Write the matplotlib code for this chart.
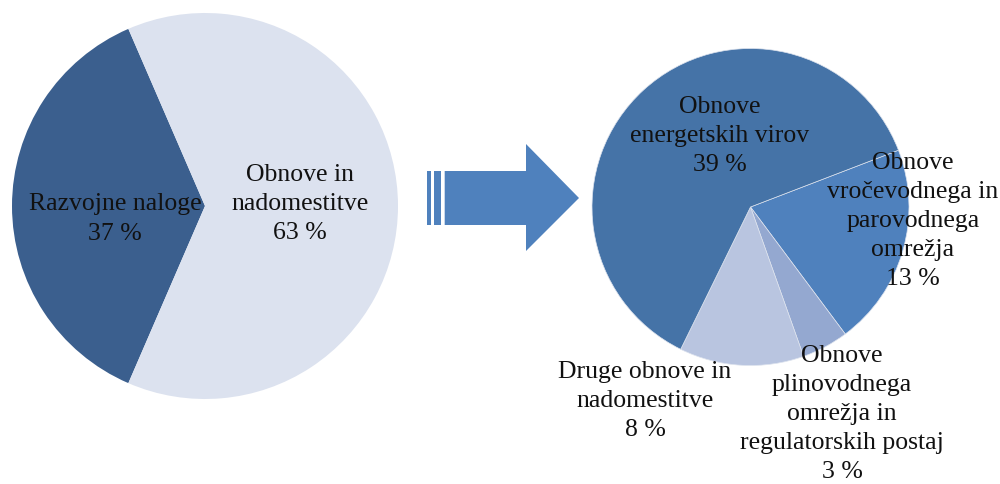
import matplotlib
matplotlib.use("Agg")
import matplotlib.pyplot as plt
from matplotlib.patches import Polygon, Rectangle

# ---- data ----
left_labels = ["Razvojne naloge", "Obnove in\nnadomestitve"]
left_values = [37, 63]
right_labels = ["Obnove\nvročevodnega in\nparovodnega\nomrežja",
                "Obnove\nplinovodnega\nomrežja in\nregulatorskih postaj",
                "Druge obnove in\nnadomestitve",
                "Obnove\nenergetskih virov"]
right_values = [13, 3, 8, 39]

left_colors = ["#3B5F8E", "#DCE2EF"]
right_colors = ["#4F81BD", "#94A8D0", "#B9C5E0", "#4573A7"]

W, H = 1000, 485
fig = plt.figure(figsize=(10, 4.85), dpi=100)
ax = fig.add_axes([0, 0, 1, 1])

def Y(yp):
    return H - yp

FONT = dict(family=["Liberation Serif", "DejaVu Serif"], fontsize=18.5,
            color="#111111", ha="center", va="center", linespacing=1.42)

# left pie
lc = (205, Y(207))
ax.pie(left_values, colors=left_colors, center=lc, radius=193,
       startangle=180 - left_values[0] / sum(left_values) * 180,
       wedgeprops=dict(linewidth=0))
left_pos = [(115, Y(219)), (300, Y(204))]
for lab, v, p in zip(left_labels, left_values, left_pos):
    ax.text(p[0], p[1], f"{lab}\n{v} %", **FONT)

# right pie
rc = (750.5, Y(208))
ax.pie(right_values, colors=right_colors, center=rc, radius=158.5,
       startangle=21, counterclock=False,
       wedgeprops=dict(linewidth=0.5, edgecolor="#DDE3EE"))
right_pos = [(913, Y(221)), (842, Y(414)), (645, Y(401)), (720, Y(136))]
for lab, v, p in zip(right_labels, right_values, right_pos):
    ax.text(p[0], p[1], f"{lab}\n{v} %", **FONT)

# arrow
acol = "#4F81BD"
ax.add_patch(Rectangle((427.3, Y(226)), 3.4, 54, color=acol, lw=0))
ax.add_patch(Rectangle((434, Y(226)), 7, 54, color=acol, lw=0))
ax.add_patch(Polygon([(444.7, Y(172)), (526, Y(172)), (526, Y(145)),
                      (579, Y(199)), (526, Y(252)), (526, Y(226)),
                      (444.7, Y(226))], closed=True, color=acol, lw=0))

ax.set_xlim(0, W)
ax.set_ylim(0, H)
ax.set_aspect("equal")
ax.axis("off")
fig.savefig("out.png", dpi=100, facecolor="white")
